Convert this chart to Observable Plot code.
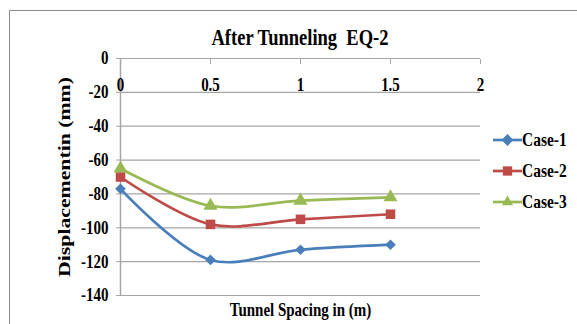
<!DOCTYPE html>
<html><head><meta charset="utf-8">
<script src="https://cdn.jsdelivr.net/npm/d3@7"></script>
<script src="https://cdn.jsdelivr.net/npm/@observablehq/plot@0.6"></script>
<style>
body{margin:0;background:#fff;}
#wrap{position:relative;width:577px;height:324px;overflow:hidden;font-family:"Liberation Serif","Times New Roman",serif;font-weight:bold;}
#border{position:absolute;left:9px;top:10px;width:600px;height:340px;border:1.5px solid #8c8c8c;box-sizing:border-box;}
#title{position:absolute;left:120px;width:360px;top:27px;text-align:center;font-size:18.5px;line-height:22px;transform:scaleY(1.22);transform-origin:50% 50%;}
#legend{position:absolute;left:493px;top:124px;font-size:15.5px;}
#legend .item{height:31px;display:flex;align-items:center;line-height:18px;}
#legend span{display:inline-block;transform:scaleY(1.22);}
</style></head>
<body><div id="wrap"><div id="border"></div><div id="title"></div><div id="chart"></div><div id="legend"></div></div>
<script>
const titleText = "After Tunneling\u00a0 EQ-2";
const xLabel = "Tunnel Spacing in (m)";
const yLabel = "Displacementin (mm)";
const spacing = [0, 0.5, 1, 1.5];
const seriesNames = ["Case-1", "Case-2", "Case-3"];
const case1 = [-77, -119, -113, -110];
const case2 = [-70, -98, -95, -92];
const case3 = [-65, -87, -84, -82];
const xTicks = [0, 0.5, 1, 1.5, 2];
const yTicks = [0, -20, -40, -60, -80, -100, -120, -140];
const colors = ["#4a7ebb", "#be4b48", "#98b954"];
const symbols = ["diamond2", "square", "triangle"];
const symbolR = [4.8, 5.4, 5.2];
const stretch = 1.22;

const data = [];
[case1, case2, case3].forEach((vals, i) => vals.forEach((v, j) => data.push({series: seriesNames[i], x: spacing[j], y: v})));

document.getElementById("title").textContent = titleText;

const font = "Liberation Serif";
const chart = Plot.plot({
  width: 577, height: 324,
  marginLeft: 120, marginRight: 97, marginTop: 58, marginBottom: 29,
  style: {fontFamily: font, fontWeight: "bold", fontSize: "15px", color: "#000", background: "transparent"},
  x: {domain: [0, 2]},
  y: {domain: [-140, 0]},
  marks: [
    Plot.gridY(yTicks.slice(1), {stroke: "#a6a6a6", strokeOpacity: 1, strokeWidth: 1.2}),
    Plot.ruleY([0], {stroke: "#a6a6a6", strokeWidth: 1.2}),
    Plot.ruleX([0], {stroke: "#a6a6a6", strokeWidth: 1.5}),
    Plot.axisX({anchor: "top", ticks: xTicks, tickSize: -5, text: null, label: null, stroke: "#a6a6a6"}),
    Plot.axisX({anchor: "top", ticks: xTicks, tickSize: 0, tickFormat: d => String(d), dy: 41, fontSize: 15, label: null}),
    Plot.axisX({anchor: "bottom", ticks: [], label: xLabel, labelAnchor: "center", labelArrow: "none", labelOffset: 20, fontSize: 15}),
    Plot.axisY({ticks: yTicks, tickSize: 4, tickPadding: 8, stroke: "#a6a6a6", tickFormat: d => String(d), fontSize: 15, label: yLabel, labelAnchor: "center", labelArrow: "none", labelOffset: 62}),
    Plot.line(data, {x: "x", y: "y", z: "series", stroke: d => colors[seriesNames.indexOf(d.series)], strokeWidth: 2.7, curve: "catmull-rom"}),
    ...seriesNames.map((s, i) => Plot.dot(data.filter(d => d.series === s), {x: "x", y: "y", fill: colors[i], symbol: symbols[i], r: symbolR[i]}))
  ]
});
// stretch glyphs vertically to match the reference's tall type
d3.select(chart).selectAll("text").each(function() {
  const t = this.getAttribute("transform") || "";
  const rotated = /rotate\(-90\)/.test(t);
  if (rotated) {
    this.setAttribute("font-size", "16");
    this.setAttribute("transform", t + ` scale(1.36,1)`);
  } else {
    this.setAttribute("transform", t + ` scale(1,${stretch})`);
  }
});
document.getElementById("chart").appendChild(chart);

const symMap = {diamond2: d3.symbolDiamond2, square: d3.symbolSquare2, triangle: d3.symbolTriangle2};
const leg = document.getElementById("legend");
seriesNames.forEach((s, i) => {
  const item = document.createElement("div");
  item.className = "item";
  const sym = d3.symbol(symMap[symbols[i]], symbols[i] === "square" ? 110 : 90)();
  item.innerHTML = `<svg width="29" height="16"><line x1="0" x2="29" y1="8" y2="8" stroke="${colors[i]}" stroke-width="2.7"/><path d="${sym}" transform="translate(14.5,8)" fill="${colors[i]}"/></svg><span>${s}</span>`;
  leg.appendChild(item);
});
</script></body></html>
